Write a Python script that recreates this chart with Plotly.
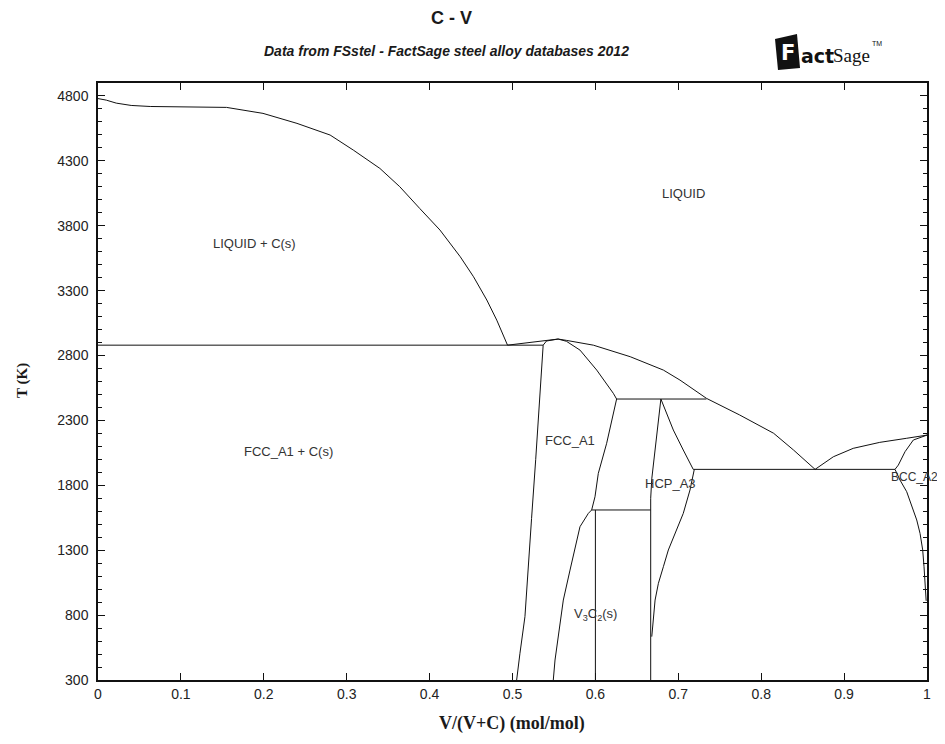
import plotly.graph_objects as go

# ---------------- data ----------------
liq_c_x = [0.0, 0.01, 0.022, 0.04, 0.063, 0.10, 0.155, 0.199, 0.240, 0.280, 0.308,
           0.340, 0.364, 0.388, 0.4125, 0.437, 0.453, 0.469, 0.481, 0.494]
liq_c_T = [4780, 4768, 4745, 4727, 4719, 4718, 4712, 4666, 4589, 4499, 4383,
           4242, 4101, 3934, 3767, 3561, 3407, 3228, 3073, 2880]

eut_c_x = [0.0, 0.537]
eut_c_T = [2880, 2880]

liq_mid_x = [0.494, 0.517, 0.541, 0.555, 0.565, 0.5975, 0.642, 0.682, 0.702,
             0.734, 0.774, 0.815, 0.839, 0.863, 0.865]
liq_mid_T = [2880, 2899, 2919, 2927, 2917, 2880, 2791, 2688, 2611,
             2470, 2342, 2201, 2072, 1931, 1923]

fcc_sol_left_x = [0.537, 0.541, 0.555]
fcc_sol_left_T = [2880, 2912, 2927]

fcc_sol_right_x = [0.555, 0.565, 0.5814, 0.6016, 0.6216, 0.6256]
fcc_sol_right_T = [2927, 2910, 2842, 2688, 2509, 2465]

perit_x = [0.6256, 0.734]
perit_T = [2465, 2465]

fcc_left_x = [0.537, 0.533, 0.528, 0.523, 0.519, 0.515, 0.509, 0.505]
fcc_left_T = [2880, 2465, 2000, 1545, 1173, 788, 506, 300]

fcc_right_x = [0.6256, 0.6136, 0.6035, 0.5995, 0.5955, 0.5915, 0.5814, 0.5754,
               0.5694, 0.5613, 0.5553, 0.5513, 0.5492]
fcc_right_T = [2465, 2124, 1892, 1712, 1610, 1584, 1481, 1302,
               1147, 916, 660, 454, 300]

v3c2_x = [0.6, 0.6]
v3c2_T = [300, 1610]

line1610_x = [0.5955, 0.6667]
line1610_T = [1610, 1610]

hcp_left_x = [0.679, 0.676, 0.673, 0.670, 0.668, 0.6667, 0.6667]
hcp_left_T = [2465, 2300, 2150, 2000, 1850, 1700, 300]

hcp_right_up_x = [0.679, 0.694, 0.706, 0.718]
hcp_right_up_T = [2465, 2226, 2072, 1923]

line1923_x = [0.718, 0.9614]
line1923_T = [1923, 1923]

hcp_right_low_x = [0.7193, 0.7141, 0.706, 0.696, 0.688, 0.682, 0.676, 0.672, 0.670, 0.668]
hcp_right_low_T = [1923, 1764, 1584, 1430, 1302, 1173, 1045, 916, 762, 634]

liq_v_x = [0.865, 0.887, 0.911, 0.943, 0.975, 1.0]
liq_v_T = [1923, 2020, 2085, 2131, 2162, 2187]

bcc_sol_x = [1.0, 0.9835, 0.9735, 0.9654, 0.9614]
bcc_sol_T = [2187, 2149, 2059, 1956, 1923]

bcc_solv_x = [0.9614, 0.9674, 0.9755, 0.9815, 0.9876, 0.9916, 0.9948, 0.9964, 0.9976, 0.9984, 0.999]
bcc_solv_T = [1923, 1841, 1751, 1648, 1533, 1430, 1302, 1173, 1045, 942, 910]

label_text = ["LIQUID", "LIQUID + C(s)", "FCC_A1", "HCP_A3", "BCC_A2",
              "FCC_A1 + C(s)", "V<sub>3</sub>C<sub>2</sub>(s)"]
label_x = [0.706, 0.189, 0.569, 0.690, 0.985, 0.230, 0.600]
label_T = [4052, 3665, 2149, 1815, 1866, 2064, 801]
label_size = [13, 13, 13, 13, 12, 13, 13]

x_ticks = [0, 0.1, 0.2, 0.3, 0.4, 0.5, 0.6, 0.7, 0.8, 0.9, 1]
y_ticks = [300, 800, 1300, 1800, 2300, 2800, 3300, 3800, 4300, 4800]

curves = [
    (liq_c_x, liq_c_T), (eut_c_x, eut_c_T), (liq_mid_x, liq_mid_T),
    (fcc_sol_left_x, fcc_sol_left_T), (fcc_sol_right_x, fcc_sol_right_T),
    (perit_x, perit_T), (fcc_left_x, fcc_left_T), (fcc_right_x, fcc_right_T),
    (v3c2_x, v3c2_T), (line1610_x, line1610_T), (hcp_left_x, hcp_left_T),
    (hcp_right_up_x, hcp_right_up_T), (line1923_x, line1923_T),
    (hcp_right_low_x, hcp_right_low_T), (liq_v_x, liq_v_T),
    (bcc_sol_x, bcc_sol_T), (bcc_solv_x, bcc_solv_T),
]

fig = go.Figure()
for cx, cy in curves:
    fig.add_trace(go.Scatter(x=cx, y=cy, mode="lines",
                             line=dict(color="#111111", width=1),
                             hoverinfo="skip", showlegend=False))

for t, lx, ly, ls in zip(label_text, label_x, label_T, label_size):
    fig.add_annotation(x=lx, y=ly, text=t, showarrow=False,
                       xanchor="center", yanchor="middle",
                       font=dict(family="Liberation Sans, Arial", size=ls, color="#333333"))

# page has an 8px body margin: figure is offset by (8, 8) in the window
OFF = 8
W, H = 945 - OFF, 744 - OFF
ML, MR, MT, MB = 98 - OFF, 18, 83 - OFF, 64
PW, PH = W - ML - MR, H - MT - MB


def px(xpage):
    return (xpage - OFF - ML) / PW


def py(ypage):
    return (H - MB - (ypage - OFF)) / PH


def page_text(xp, yp, text, font, xanchor="center", angle=0):
    fig.add_annotation(xref="paper", yref="paper", x=px(xp), y=py(yp), text=text,
                       showarrow=False, xanchor=xanchor, yanchor="middle",
                       textangle=angle, font=font)


TXT = "#1a1a1a"
# Title, subtitle
page_text(451, 18, "<b>C - V</b>", dict(family="Liberation Sans, Arial", size=18, color=TXT))
page_text(446, 51, "<b><i>Data from FSstel - FactSage steel alloy databases 2012</i></b>",
          dict(family="Liberation Sans, Arial", size=14, color=TXT))

# FactSage logo (approximation)
fig.add_shape(type="path", xref="paper", yref="paper",
              path=(f"M {px(775)} {py(39)} L {px(797)} {py(34)} "
                    f"L {px(800)} {py(68)} L {px(778)} {py(70)} Z"),
              fillcolor="#111", line=dict(width=0))
page_text(788, 53, "<b>F</b>", dict(family="DejaVu Sans", size=21, color="white"))
page_text(799, 56, "<b>act</b>", dict(family="DejaVu Sans", size=19, color="#111"), xanchor="left")
page_text(831, 55, "Sage", dict(family="Liberation Serif", size=19, color="#111"), xanchor="left")
page_text(870, 43, "TM", dict(family="Liberation Sans", size=7, color="#111"), xanchor="left")

# axis titles
page_text(512, 723, "<b>V/(V+C) (mol/mol)</b>",
          dict(family="Liberation Serif, Times New Roman", size=18, color=TXT))
page_text(22, 381, "<b>T (K)</b>",
          dict(family="Liberation Serif, Times New Roman", size=15, color=TXT), angle=-90)

fig.update_layout(
    width=W, height=H,
    margin=dict(l=ML, r=MR, t=MT, b=MB, pad=0, autoexpand=False),
    paper_bgcolor="white", plot_bgcolor="white",
    showlegend=False,
)
fig.update_xaxes(
    range=[0, 1], tickvals=x_ticks, ticktext=[str(v) for v in x_ticks],
    ticks="inside", ticklen=7, tickwidth=1, tickcolor="#111",
    showline=True, linecolor="#111", linewidth=1.5, mirror="allticks",
    showgrid=False, zeroline=False, automargin=False,
    tickfont=dict(family="Liberation Sans, Arial", size=14, color="#222"),
)
fig.update_yaxes(
    range=[300, 4900], tickvals=y_ticks, ticktext=[str(v) for v in y_ticks],
    ticks="inside", ticklen=7, tickwidth=1, tickcolor="#111",
    minor=dict(tick0=300, dtick=100, ticks="inside", ticklen=4, tickcolor="#111", showgrid=False),
    showline=True, linecolor="#111", linewidth=1.5, mirror="allticks",
    showgrid=False, zeroline=False, automargin=False, ticklabelstandoff=5,
    tickfont=dict(family="Liberation Sans, Arial", size=14, color="#222"),
)

fig.write_html("out.html")
